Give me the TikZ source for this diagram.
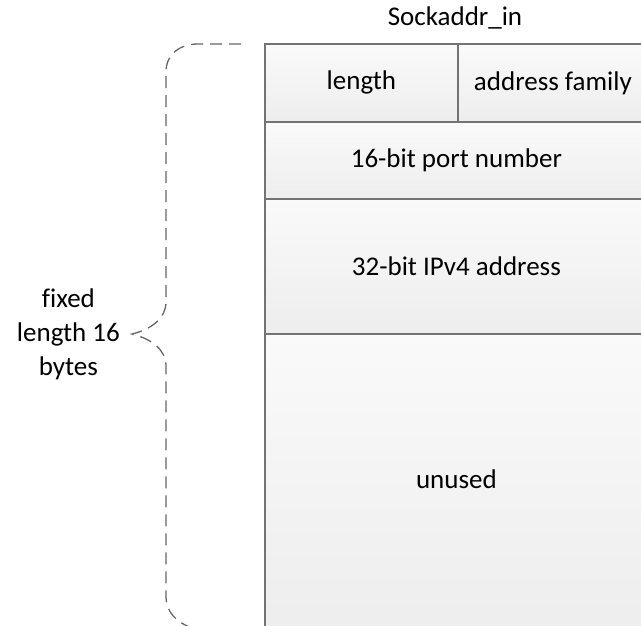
\documentclass[tikz,border=0pt]{standalone}
\usepackage{fontspec}
\setmainfont{Carlito}[Ligatures=NoCommon]
\begin{document}
\begin{tikzpicture}[x=1pt,y=-1pt,
  cell/.style={draw=black!55, line width=1.8pt, top color=white!98!black, bottom color=black!7,
    inner sep=0pt, anchor=north west, font=\fontsize{27}{32}\selectfont, text=black},
  lbl/.style={font=\fontsize{27}{34}\selectfont, text=black, inner sep=0pt},
  brace/.style={draw=black!60, line width=1.3pt, dash pattern=on 12pt off 7pt}]
\useasboundingbox (0,0) rectangle (641,625);
\begin{scope}
\clip (0,0) rectangle (641,625);
% structure fields, top to bottom; the last one runs past the lower edge
\node[cell, minimum width=193, minimum height=78] (len) at (264,43) {length};
\node[cell, minimum width=190, minimum height=78] (fam) at (457,43) {address family};
\node[cell, minimum width=383, minimum height=77] (port) at (264,121) {16-bit port number};
\node[cell, minimum width=383, minimum height=135] (addr) at (264,198) {32-bit IPv4 address};
\node[cell, minimum width=383, minimum height=300] (unused) at (264,333) {\raisebox{9pt}{unused}};
\end{scope}
\node[lbl] (title) at (455,18) {Sockaddr\_in};
% dashed brace spanning the 16 bytes
\coordinate (tip) at (132,334);
\draw[brace] (241,44) -- (198,44) .. controls (180,44) and (166,54) .. (166,72)
  -- (166,302) .. controls (166,318) and (152,329) .. (tip)
  .. controls (152,339) and (166,350) .. (166,366)
  -- (166,596) .. controls (166,612) and (176,622) .. (192,628);
\node[lbl, align=center, anchor=east] (side) at (120,334) {fixed\\length 16\\bytes};
\end{tikzpicture}
\end{document}
